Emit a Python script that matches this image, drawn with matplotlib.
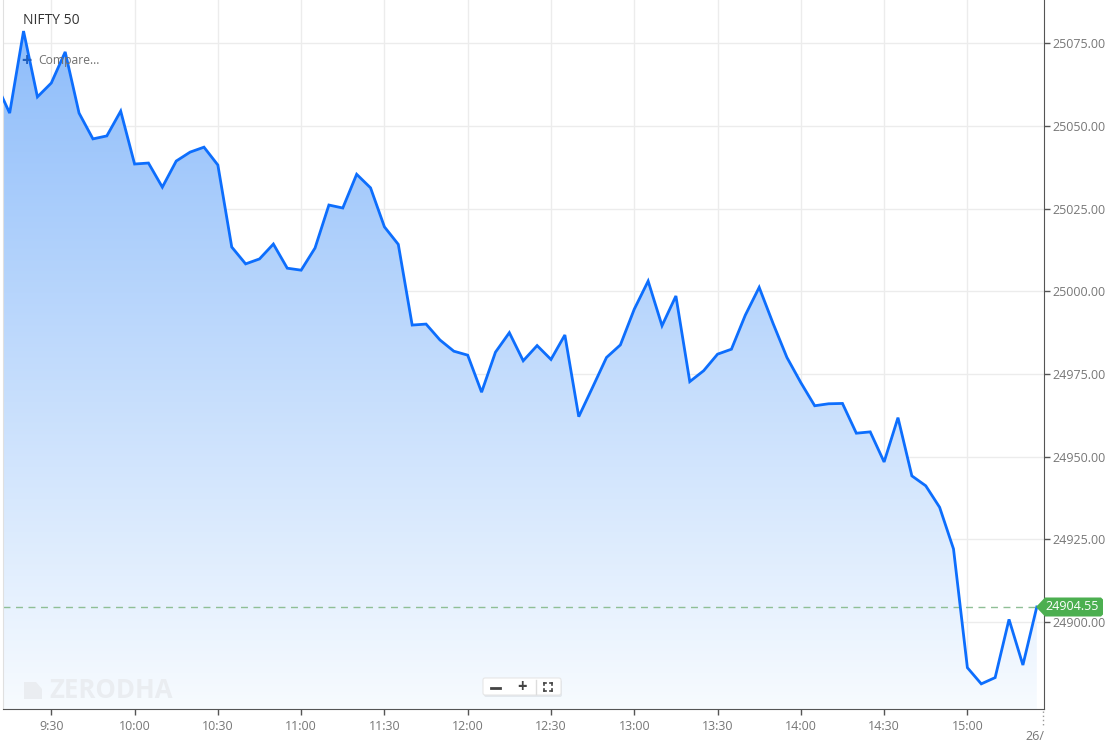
import numpy as np
import matplotlib.pyplot as plt
from matplotlib.colors import LinearSegmentedColormap
from matplotlib.patches import Polygon, FancyBboxPatch

plt.rcParams['font.family'] = ['Open Sans', 'DejaVu Sans']

# 5-minute closes, 9:10 .. 15:25
minutes = np.arange(9 * 60 + 10, 15 * 60 + 30, 5)
prices = [
    25063.0, 25053.9, 25078.7, 25058.8, 25063.0, 25072.4, 25053.9, 25046.1, 25047.0, 25054.5,
    25038.5, 25038.8, 25031.5, 25039.4, 25042.1, 25043.6, 25038.2, 25013.4, 25008.3, 25009.8, 25014.3, 25007.0,
    25006.4, 25013.1, 25026.1, 25025.2, 25035.4, 25031.3, 25019.5, 25014.2, 24989.8, 24990.1, 24985.3, 24981.9,
    24980.7, 24969.5, 24981.6, 24987.5, 24979.0, 24983.6, 24979.4, 24986.8, 24962.1, 24971.0, 24980.0, 24983.8,
    24994.6, 25003.1, 24989.6, 24998.6, 24972.7, 24976.0, 24981.0, 24982.5, 24992.8, 25001.2, 24990.3, 24980.0,
    24972.4, 24965.4, 24966.0, 24966.1, 24957.1, 24957.5, 24948.4, 24961.8, 24944.2, 24941.2, 24934.7, 24922.1,
    24886.2, 24881.3, 24883.2, 24900.8, 24887.0, 24904.55,
]
last_price = 24904.55
xtick_labels = ['9:30', '10:00', '10:30', '11:00', '11:30', '12:00', '12:30',
                '13:00', '13:30', '14:00', '14:30', '15:00']
ytick_values = [24900, 24925, 24950, 24975, 25000, 25025, 25050, 25075]

W, H = 1106, 748
fig = plt.figure(figsize=(W / 100, H / 100), dpi=100)
ax = fig.add_axes([3 / W, (H - 709) / H, (1044 - 3) / W, 709 / H])

x0, x1 = 9 * 60 + 12.6, 15 * 60 + 27.6
y0, y1 = 24873.7, 25088.1
ax.set_xlim(x0, x1)
ax.set_ylim(y0, y1)

# gradient area under the line
cmap = LinearSegmentedColormap.from_list('grad', [(0.97, 0.985, 1.0), (0.54, 0.73, 0.98)])
grad = np.linspace(0, 1, 256).reshape(-1, 1)
img = ax.imshow(grad, cmap=cmap, origin='lower', aspect='auto',
                extent=[x0, x1, y0, y1], zorder=1)
poly = ax.fill_between(minutes, prices, y0, color='none', lw=0)
clip = Polygon(poly.get_paths()[0].vertices, closed=True, transform=ax.transData)
img.set_clip_path(clip)

ax.plot(minutes, prices, color='#0d6efd', lw=2, zorder=3, solid_joinstyle='miter')
ax.axhline(last_price, color='#8fbf96', lw=1, ls=(0, (5, 4)), zorder=2)

ticks = [9 * 60 + 30 + 30 * i for i in range(len(xtick_labels))]
ax.set_xticks(ticks)
ax.set_xticklabels(xtick_labels)
ax.set_yticks(ytick_values)
ax.set_yticklabels(['%.2f' % v for v in ytick_values])
ax.yaxis.tick_right()
ax.grid(True, color='#ececec', lw=1, zorder=0)
ax.set_axisbelow(True)
ax.tick_params(axis='both', colors='#555555', labelcolor='#777777', labelsize=9,
               length=4, width=1)
ax.tick_params(axis='y', pad=2)
ax.tick_params(axis='x', pad=4)
ax.spines['top'].set_visible(False)
ax.spines['left'].set_color('#e0e0e0')
ax.spines['right'].set_color('#555555')
ax.spines['bottom'].set_color('#555555')

# overlay in pixel coords
ov = fig.add_axes([0, 0, 1, 1], zorder=10)
ov.set_xlim(0, W)
ov.set_ylim(H, 0)
ov.axis('off')

ov.text(23, 20, 'NIFTY 50', fontsize=10, color='#333333', va='center', ha='left')
ov.text(21.5, 60.5, '+', fontsize=13, color='#1f5fbf', va='center', ha='left', fontweight='bold')
ov.text(38.5, 60.5, 'Compare...', fontsize=8.7, color='#707070', va='center', ha='left')

# watermark
ov.add_patch(Polygon([(24, 682), (36, 682), (42, 689), (42, 699), (24, 699)],
                     closed=True, color='#eaedf1', lw=0))
ov.text(49, 691, 'ZERODHA', fontsize=18.5, fontweight='bold', color='#eaedf1',
        va='center', ha='left')

# zoom buttons
ov.add_patch(FancyBboxPatch((484, 680), 78, 17, boxstyle='round,pad=0,rounding_size=2',
                            facecolor='#d8dde3', edgecolor='none', alpha=0.6))
ov.add_patch(FancyBboxPatch((483, 678), 78, 17, boxstyle='round,pad=0,rounding_size=2',
                            facecolor='white', edgecolor='#e6e6e6', lw=0.8))
ov.plot([491, 500], [688, 688], color='#444444', lw=2)
ov.text(522, 687.5, '+', fontsize=12, fontweight='bold', color='#444444', ha='center', va='center')
ov.plot([535.5, 535.5], [680, 694], color='#dddddd', lw=1)
cx, cy, r, c = 548, 687, 4, 2
for sx in (-1, 1):
    for sy in (-1, 1):
        ov.plot([cx + sx * r, cx + sx * (r - c)], [cy + sy * r, cy + sy * r], color='#444444', lw=1.2)
        ov.plot([cx + sx * r, cx + sx * r], [cy + sy * r, cy + sy * (r - c)], color='#444444', lw=1.2)

# last price label
ov.add_patch(Polygon([(1036, 607), (1045, 597.5), (1101, 597.5), (1103, 599.5),
                      (1103, 614.5), (1101, 616.5), (1045, 616.5)],
                     closed=True, facecolor='#4caf50', edgecolor='none'))
ov.text(1072, 607, '%.2f' % last_price, fontsize=9, color='white', ha='center', va='center')

# date stub at the right edge
ov.plot([1043, 1043], [711, 727], color='#999999', lw=1, ls=(0, (1, 2)))
ov.text(1044, 737, '26/', fontsize=9, color='#777777', ha='right', va='center')

fig.savefig('out.png', dpi=100)
